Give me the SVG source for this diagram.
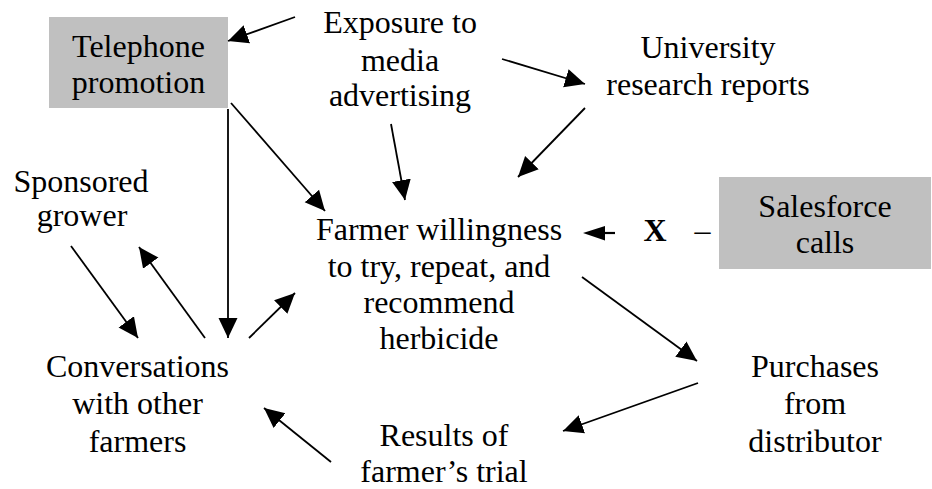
<svg xmlns="http://www.w3.org/2000/svg" width="932" height="489" viewBox="0 0 932 489">
<defs>
<style>
text{font-family:"Liberation Serif","DejaVu Serif",serif;font-size:32px;fill:#000;text-anchor:middle}
.box{fill:#c0c0c0;stroke:none}
.c{stroke:#000;stroke-width:1.8;fill:none;marker-end:url(#ah)}
.b{font-weight:bold}
</style>
<marker id="ah" markerUnits="userSpaceOnUse" markerWidth="20" markerHeight="20" refX="20" refY="9.5" orient="auto" viewBox="0 0 20 19">
<path d="M0,0 L20,9.5 L0,19 z" fill="#000"/>
</marker>
</defs>
<rect width="932" height="489" fill="#fff"/>
<g id="telephone">
<rect class="box" x="49" y="17" width="179" height="91"/>
<text x="138.5" y="57">Telephone</text>
<text x="138.5" y="93">promotion</text>
</g>
<g id="exposure">
<text x="400" y="33">Exposure to</text>
<text x="400" y="71">media</text>
<text x="400" y="106">advertising</text>
</g>
<g id="university">
<text x="708" y="58">University</text>
<text x="708" y="95">research reports</text>
</g>
<g id="sponsored">
<text x="81" y="192">Sponsored</text>
<text x="82" y="226">grower</text>
</g>
<g id="farmer">
<text x="439" y="240">Farmer willingness</text>
<text x="439" y="276.5">to try, repeat, and</text>
<text x="439" y="312.5">recommend</text>
<text x="439" y="349">herbicide</text>
</g>
<g id="salesforce">
<rect class="box" x="719" y="177" width="212" height="92"/>
<text x="825" y="217">Salesforce</text>
<text x="825" y="253">calls</text>
</g>
<g id="modifier">
<text class="b" x="655" y="241">X</text>
<text x="702.5" y="241">–</text>
</g>
<g id="conversations">
<text x="137.5" y="377">Conversations</text>
<text x="137.5" y="414">with other</text>
<text x="137.5" y="452">farmers</text>
</g>
<g id="purchases">
<text x="815" y="377">Purchases</text>
<text x="815" y="414">from</text>
<text x="815" y="452">distributor</text>
</g>
<g id="results">
<text x="444" y="446">Results of</text>
<text x="444" y="482">farmer’s trial</text>
</g>
<g id="connectors">
<line class="c" x1="295" y1="17" x2="228" y2="41"/>
<line class="c" x1="231" y1="103" x2="325" y2="211"/>
<line class="c" x1="228" y1="109" x2="228" y2="338"/>
<line class="c" x1="391" y1="124" x2="405" y2="200"/>
<line class="c" x1="502" y1="59" x2="585" y2="84"/>
<line class="c" x1="585" y1="108" x2="518" y2="177"/>
<line x1="615" y1="233" x2="600" y2="233" stroke="#000" stroke-width="2.2"/>
<path d="M583,233 L605,226 L605,240.5 z" fill="#000"/>
<line class="c" x1="71" y1="246" x2="138" y2="338"/>
<line class="c" x1="205" y1="338" x2="139" y2="247"/>
<line class="c" x1="249" y1="338" x2="295" y2="293"/>
<line class="c" x1="331" y1="462" x2="264" y2="408"/>
<line class="c" x1="582" y1="277" x2="697" y2="361"/>
<line class="c" x1="698" y1="383" x2="563" y2="431"/>
</g>
</svg>
